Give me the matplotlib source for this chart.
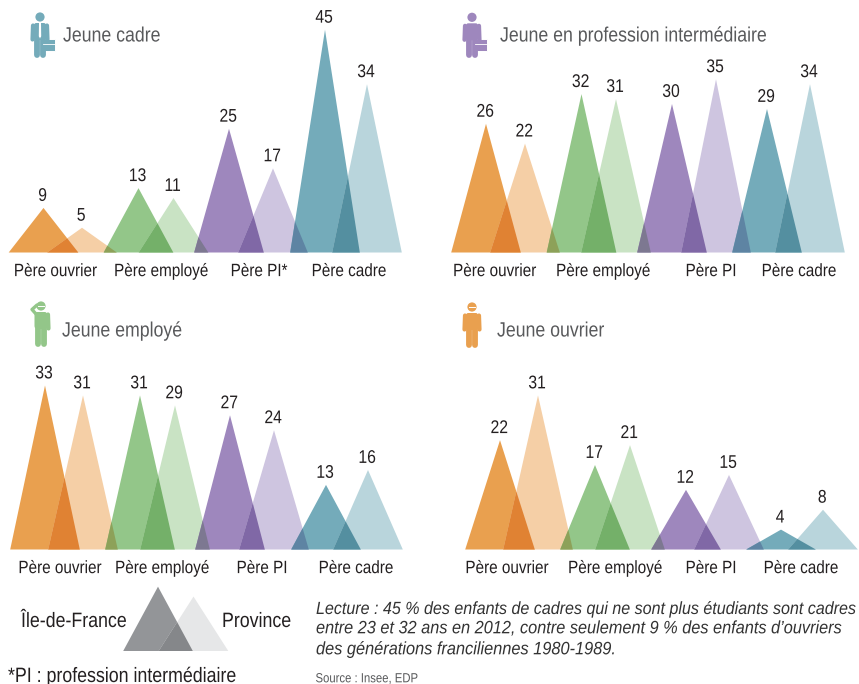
import matplotlib
matplotlib.use("Agg")
from matplotlib import pyplot as plt
from matplotlib.colors import to_rgb
from matplotlib.patches import Circle, FancyBboxPatch, Rectangle
from matplotlib.patheffects import AbstractPathEffect
from matplotlib.transforms import Affine2D

plt.rcParams['font.family'] = ['Liberation Sans', 'DejaVu Sans']

W, H = 859, 684

# values: one per father category, in order ouvrier, employe, PI, cadre
cadre_idf = [9, 13, 25, 45]
cadre_prov = [5, 11, 17, 34]
inter_idf = [26, 32, 30, 29]
inter_prov = [22, 31, 35, 34]
employe_idf = [33, 31, 27, 13]
employe_prov = [31, 29, 24, 16]
ouvrier_idf = [22, 17, 12, 4]
ouvrier_prov = [31, 21, 15, 8]

labels = ['Père ouvrier', 'Père employé', 'Père PI', 'Père cadre']
labels_star = ['Père ouvrier', 'Père employé', 'Père PI*', 'Père cadre']
legend_vals = [13, 11]

dark = ['#E9A04F', '#93C689', '#9E87BD', '#74ABBA']
light = ['#F5CFA6', '#C9E3C4', '#CEC5E0', '#B9D5DC']
txt = '#231F20'
gray = '#58595B'

HW = 34.8
PX = 4.95


class Tall(AbstractPathEffect):
    # the source font is a narrow one: small size stretched upward gives the same look
    def __init__(self, sy=1.17):
        super().__init__()
        self.sy = sy

    def draw_path(self, renderer, gc, tpath, affine, rgbFace=None):
        renderer.draw_path(gc, tpath, Affine2D().scale(1, self.sy) + affine, rgbFace)


TALL = [Tall()]


def mult(c1, c2):
    a = to_rgb(c1)
    b = to_rgb(c2)
    return (a[0] * b[0], a[1] * b[1], a[2] * b[2])


def draw_tris(ax, xs, vals, cols, numbers=True):
    for x, v, c in zip(xs, vals, cols):
        ax.fill([x - HW, x, x + HW], [0, v, 0], color=c, lw=0)
    # the source uses multiply blending, so overlaps get their own polygon
    for i in range(len(xs) - 1):
        l2 = xs[i + 1] - HW
        r1 = xs[i] + HW
        v1 = vals[i]
        v2 = vals[i + 1]
        if l2 >= r1:
            continue
        xm = (v1 * r1 + v2 * l2) / (v1 + v2)
        ym = v1 * (r1 - xm) / HW
        ax.fill([l2, xm, r1], [0, ym, 0], color=mult(cols[i], cols[i + 1]), lw=0)
    if numbers:
        for x, v in zip(xs, vals):
            ax.annotate(str(v), (x, v), xytext=(-0.6, 5.1), textcoords='offset points',
                        ha='center', va='baseline', fontsize=11.3, color=txt,
                        annotation_clip=False, path_effects=TALL)


def panel(baseline, x0, x1, top, idf, prov, idf_x, prov_x, lab, lab_x, scale=PX):
    ax = fig.add_axes([x0 / W, 1 - baseline / H, (x1 - x0) / W, (baseline - top) / H])
    ax.set_xlim(x0, x1)
    ax.set_ylim(0, (baseline - top) / scale)
    ax.patch.set_alpha(0)
    for s in ax.spines.values():
        s.set_visible(False)
    ax.set_yticks([])
    xs = []
    vals = []
    cols = []
    for i in range(4):
        xs += [idf_x[i], prov_x[i]]
        vals += [idf[i], prov[i]]
        cols += [dark[i], light[i]]
    draw_tris(ax, xs, vals, cols)
    ax.set_xticks(lab_x, lab)
    ax.tick_params(axis='x', length=0, pad=17, labelsize=11, labelcolor=txt)
    for t in ax.get_xticklabels():
        t.set_va('baseline')
        t.set_path_effects(TALL)
    return ax


def limb(x, y, col, lw=4.2):
    ov.plot(x, y, color=col, lw=lw, solid_capstyle='round', solid_joinstyle='round')


def person(cx, top, col, case=False, tie=False, cap=False, salute=False):
    ov.add_patch(Circle((cx, top + 4.5), 4.6, color=col, lw=0))
    ov.add_patch(FancyBboxPatch((cx - 6.5, top + 10.5), 13, 17, boxstyle='round,pad=0,rounding_size=3',
                                color=col, lw=0))
    limb([cx - 2.9, cx - 2.9], [top + 26, top + 42], col, 4.2)
    limb([cx + 2.9, cx + 2.9], [top + 26, top + 42], col, 4.2)
    if salute:
        limb([cx - 5, cx - 9, cx - 4], [top + 12.5, top + 8, top + 3.5], col, 2.4)
    else:
        limb([cx - 7, cx - 7.5], [top + 13, top + 27], col, 3)
    limb([cx + 7, cx + 7.5], [top + 13, top + 27], col, 3)
    if tie:
        ov.fill([cx - 1, cx + 1, cx + 1.2, cx, cx - 1.2],
                [top + 10.5, top + 10.5, top + 24, top + 27, top + 24], color='white', lw=0)
    if case:
        ov.add_patch(Rectangle((cx + 2.5, top + 26), 12.5, 12.5, fc=col, ec='white', lw=0.7))
        ov.plot([cx + 2.5, cx + 15], [top + 31, top + 31], color='white', lw=0.6)
    if cap:
        ov.plot([cx - 3, cx + 3], [top + 4.5, top + 4.5], color='white', lw=0.7)


fig = plt.figure(figsize=(W / 100, H / 100), dpi=100)
ov = fig.add_axes([0, 0, 1, 1])
ov.set_xlim(0, W)
ov.set_ylim(H, 0)
ov.axis('off')

panel(252.5, 0, 430, 5, cadre_idf, cadre_prov, [43.5, 138.5, 229, 325], [82, 173.5, 273, 367],
      labels_star, [55.5, 161, 259, 349])
panel(252.5, 440, 859, 5, inter_idf, inter_prov, [486, 581.5, 672, 767], [525, 616, 716, 810],
      labels, [494.7, 603, 711, 799])
panel(549.5, 0, 430, 360, employe_idf, employe_prov, [45, 140, 230, 326], [83, 175, 274, 368],
      labels, [60, 162, 262, 356], 4.97)
panel(549.5, 440, 859, 360, ouvrier_idf, ouvrier_prov, [500, 595, 686, 781], [538, 630, 729, 823],
      labels, [507, 615, 711, 801], 4.97)

# legend triangles
lg = fig.add_axes([100 / W, 1 - 651 / H, 150 / W, 70 / H])
lg.set_xlim(100, 250)
lg.set_ylim(0, 70 / PX)
lg.axis('off')
draw_tris(lg, [158, 193.5], legend_vals, ['#939598', '#E6E7E8'], numbers=False)

ttl = dict(fontsize=12.75, color=gray, va='baseline', path_effects=TALL)
ov.text(63, 41.5, 'Jeune cadre', **ttl)
ov.text(500, 41.5, 'Jeune en profession intermédiaire', **ttl)
ov.text(62, 336.5, 'Jeune employé', **ttl)
ov.text(497, 336.5, 'Jeune ouvrier', **ttl)

person(40, 12.5, '#74ABBA', case=True, tie=True)
person(472, 12.8, '#9E87BD', case=True)
person(41, 301.5, '#93C689', salute=True, cap=True)
person(472, 302.5, '#E9A04F', cap=True)

leg = dict(fontsize=12.8, color=txt, va='baseline', path_effects=TALL)
ov.text(21, 627, 'Île-de-France', **leg)
ov.text(222, 627, 'Province', **leg)
ov.text(8, 682, '*PI : profession intermédiaire', **leg)

lect = dict(style='italic', color='#333333', va='baseline', path_effects=[Tall(1.1)])
ov.text(316, 614, 'Lecture : 45 % des enfants de cadres qui ne sont plus étudiants sont cadres', fontsize=11.56, **lect)
ov.text(316, 633.3, 'entre 23 et 32 ans en 2012, contre seulement 9 % des enfants d’ouvriers', fontsize=11.74, **lect)
ov.text(316, 654.3, 'des générations franciliennes 1980-1989.', fontsize=11.77, **lect)
ov.text(315.5, 682.3, 'Source : Insee, EDP', fontsize=8.15, color=gray, va='baseline', path_effects=TALL)

fig.savefig('out.png', dpi=100)
